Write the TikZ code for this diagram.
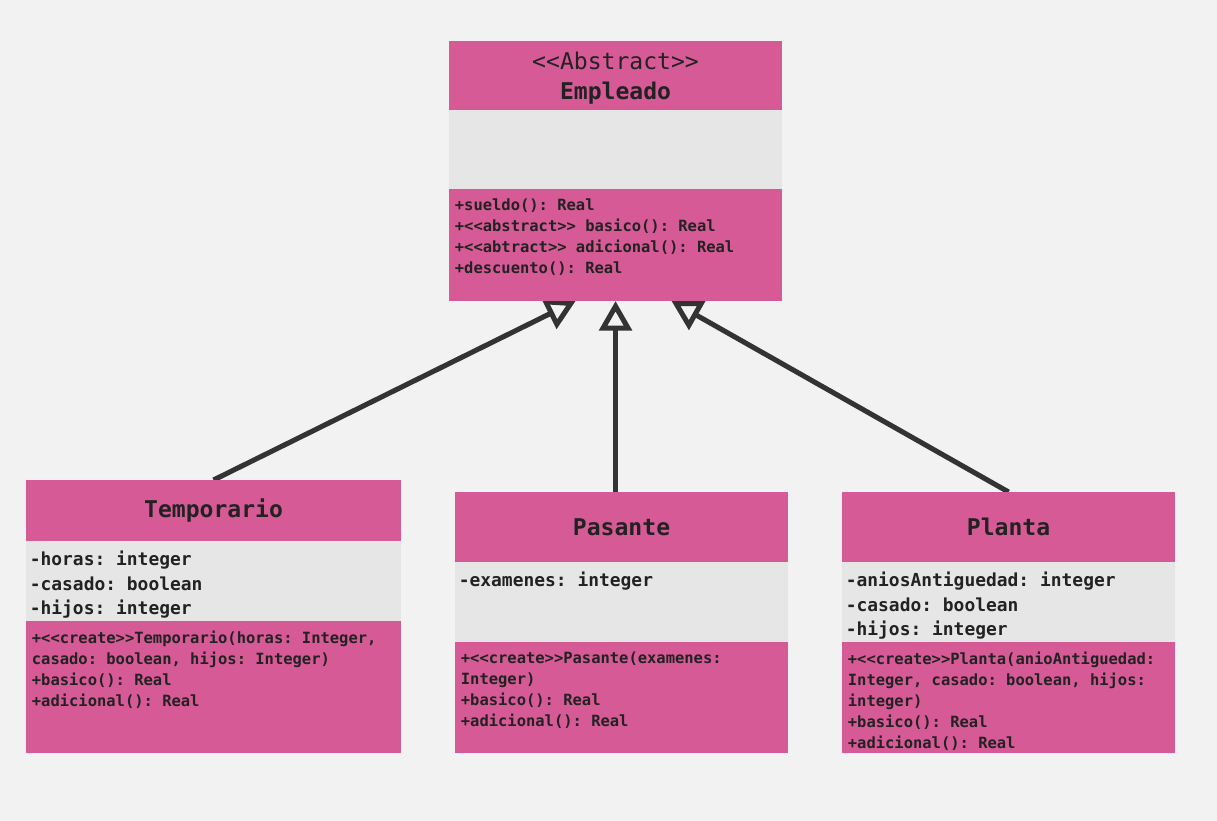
\documentclass[tikz,border=0pt]{standalone}
\usepackage{fontspec}
\setmonofont{DejaVu Sans Mono}
\usetikzlibrary{positioning,arrows.meta,backgrounds}
\definecolor{umlpink}{RGB}{214,90,150}
\definecolor{umlgray}{RGB}{230,230,230}
\definecolor{canvas}{RGB}{242,242,242}
\definecolor{inkdark}{RGB}{34,34,34}
\definecolor{linkdark}{RGB}{51,51,51}
\tikzset{
  umlbox/.style={rectangle, inner sep=0pt, outer sep=0pt},
  classw/.style={minimum width=#1},
  headbox/.style={umlbox, fill=umlpink, anchor=north west, text=inkdark, align=center,
    font=\ttfamily\bfseries\fontsize{16.4}{21.3}\selectfont},
  attrbox/.style={umlbox, fill=umlgray},
  opbox/.style={umlbox, fill=umlpink},
  attrtext/.style={anchor=north west, inner xsep=2.5pt, inner ysep=7pt, align=left, text=inkdark,
    font=\ttfamily\bfseries\fontsize{12.75}{17.4}\selectfont},
  optext/.style={attrtext, inner xsep=4pt, font=\ttfamily\bfseries\fontsize{11}{14.9}\selectfont},
  inherit/.style={draw=linkdark, line width=3.6pt, -{Triangle[open, length=21pt, width=23pt]}}
}
\begin{document}
\begin{tikzpicture}[x=0.025cm, y=-0.025cm]
			%Empleado
			\node[headbox, classw=8.325cm, minimum height=1.725cm, text depth=0pt] (empH) at (449,41) {{\mdseries <<Abstract>>}\\Empleado};
			\node[attrbox, classw=8.325cm, minimum height=1.975cm, below=0pt of empH] (empA) {};
			\node[opbox, classw=8.325cm, minimum height=2.8cm, below=0pt of empA] (empM) {};
			\node[optext] (empOps) at (empM.north west) {+sueldo(): Real\\+<<abstract>> basico(): Real\\+<<abtract>> adicional(): Real\\+descuento(): Real};
			%Temporario
			\node[headbox, classw=9.375cm, minimum height=1.525cm] (tempH) at (26,480) {Temporario};
			\node[attrbox, classw=9.375cm, minimum height=2cm, below=0pt of tempH] (tempA) {};
			\node[opbox, classw=9.375cm, minimum height=3.3cm, below=0pt of tempA] (tempM) {};
			\node[attrtext] (tempAttrs) at (tempA.north west) {-horas: integer\\-casado: boolean\\-hijos: integer};
			\node[optext] (tempOps) at (tempM.north west) {+<<create>>Temporario(horas: Integer,\\casado: boolean, hijos: Integer)\\+basico(): Real\\+adicional(): Real};
			%Pasante
			\node[headbox, classw=8.325cm, minimum height=1.75cm] (pasH) at (455,492) {Pasante};
			\node[attrbox, classw=8.325cm, minimum height=2cm, below=0pt of pasH] (pasA) {};
			\node[opbox, classw=8.325cm, minimum height=2.775cm, below=0pt of pasA] (pasM) {};
			\node[attrtext] (pasAttrs) at (pasA.north west) {-examenes: integer};
			\node[optext] (pasOps) at (pasM.north west) {+<<create>>Pasante(examenes:\\Integer)\\+basico(): Real\\+adicional(): Real};
			%Planta
			\node[headbox, classw=8.325cm, minimum height=1.75cm] (planH) at (842,492) {Planta};
			\node[attrbox, classw=8.325cm, minimum height=2cm, below=0pt of planH] (planA) {};
			\node[opbox, classw=8.325cm, minimum height=2.775cm, below=0pt of planA] (planM) {};
			\node[attrtext] (planAttrs) at (planA.north west) {-aniosAntiguedad: integer\\-casado: boolean\\-hijos: integer};
			\node[optext] (planOps) at (planM.north west) {+<<create>>Planta(anioAntiguedad:\\Integer, casado: boolean, hijos:\\integer)\\+basico(): Real\\+adicional(): Real};
			%Herencia
			\begin{scope}[on background layer]
			\fill[canvas] (0,0) rectangle (1217,821);
			\draw[inherit] (tempH.north) -- ([xshift=-1.0cm]empM.south);
			\draw[inherit] (pasH.north -| empM.south) -- (empM.south);
			\draw[inherit] (planH.north) -- ([xshift=1.4cm]empM.south);
			\end{scope}
\end{tikzpicture}
\end{document}
